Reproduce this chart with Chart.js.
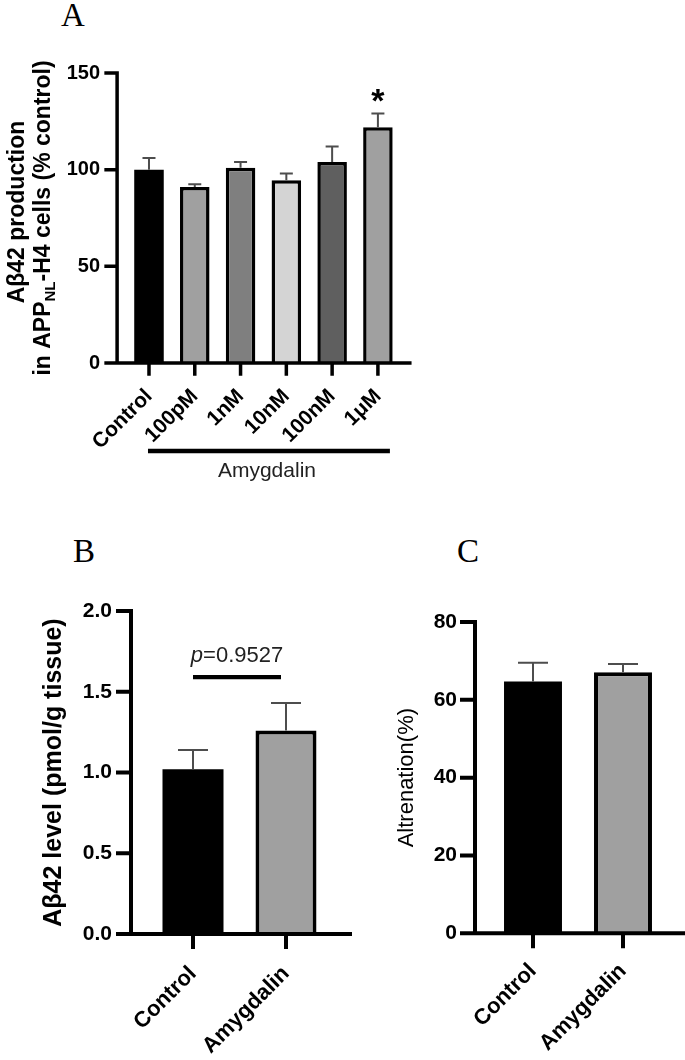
<!DOCTYPE html>
<html>
<head>
<meta charset="utf-8">
<script src="https://cdn.jsdelivr.net/npm/chart.js@4"></script>
<style>
  body { margin: 0; background: #fff; }
  #fig { position: relative; width: 685px; height: 1060px; background: #fff; overflow: hidden; }
  .panel { position: absolute; font-family: 'Liberation Serif', 'Times New Roman', serif; font-size: 33px; line-height: 1; color: #000; }
  canvas { position: absolute; }
</style>
</head>
<body>
<div id="fig">
  <div class="panel" style="left:61px;top:-1px">A</div>
  <div class="panel" style="left:73px;top:535px">B</div>
  <div class="panel" style="left:457px;top:535px">C</div>
  <canvas id="chartA" width="430" height="500" style="left:0;top:0"></canvas>
  <canvas id="chartB" width="360" height="509" style="left:0;top:551px"></canvas>
  <canvas id="chartC" width="335" height="498" style="left:350px;top:561.7px"></canvas>
</div>
<script>
// panel A: Abeta42 production in APP-NL-H4 cells
const doseLabels = ['Control', '100pM', '1nM', '10nM', '100nM', '1\u03bcM'];
const abProduction = [100, 91, 101, 94.5, 104, 122];
const abProductionErr = [6, 1.5, 3, 3.5, 8, 7];
const doseColors = ['#000000', '#a0a0a0', '#7f7f7f', '#d4d4d4', '#5f5f5f', '#a0a0a0'];
const doseSignif = ['', '', '', '', '', '*'];
const ticksA = [0, 50, 100, 150];

// panel B: Abeta42 level in tissue
const groupLabels = ['Control', 'Amygdalin'];
const groupColors = ['#000000', '#a0a0a0'];
const abLevel = [1.02, 1.26];
const abLevelErr = [0.12, 0.17];
const ticksB = [0, 0.5, 1.0, 1.5, 2.0];
const pValue = '0.9527';
const pBarLevel = 1.59;

// panel C: spontaneous alternation
const alternation = [64.7, 67.1];
const alternationErr = [4.8, 2.1];
const ticksC = [0, 20, 40, 60, 80];

const family = "'Liberation Sans', Arial, sans-serif";
Chart.defaults.font.family = family;
Chart.defaults.color = '#000';

// black bars need no outline (avoids a seam between outline and fill)
const outline = (colors, w) => colors.map(c => (c === '#000000' ? 0 : w));

// axis lines, tick marks and upper error bars
const axisLines = {
  id: 'axisLines',
  afterDatasetsDraw(chart, args, o) {
    const ctx = chart.ctx;
    const { left, right, bottom } = chart.chartArea;
    const x = chart.scales.x, y = chart.scales.y;
    const data = chart.data.datasets[0].data;
    const bars = chart.getDatasetMeta(0).data;
    ctx.save();
    ctx.strokeStyle = '#4d4d4d';
    ctx.lineWidth = o.errWidth;
    bars.forEach((bar, i) => {
      const yTop = y.getPixelForValue(data[i] + o.errors[i]);
      ctx.beginPath();
      ctx.moveTo(bar.x, bar.y);
      ctx.lineTo(bar.x, yTop);
      ctx.moveTo(bar.x - o.cap / 2, yTop);
      ctx.lineTo(bar.x + o.cap / 2, yTop);
      ctx.stroke();
    });
    const ax = left - o.gap;
    ctx.strokeStyle = '#000';
    ctx.lineWidth = o.width;
    ctx.lineCap = 'square';
    ctx.beginPath();
    ctx.moveTo(ax, y.getPixelForValue(y.max));
    ctx.lineTo(ax, bottom);
    ctx.lineTo(right + o.extend, bottom);
    y.ticks.forEach(t => {
      const py = y.getPixelForValue(t.value);
      ctx.moveTo(ax - o.tickLen, py);
      ctx.lineTo(ax, py);
    });
    bars.forEach((bar, i) => {
      const px = x.getPixelForTick(i);
      ctx.moveTo(px, bottom);
      ctx.lineTo(px, bottom + o.tickLen);
    });
    ctx.stroke();
    ctx.restore();
  }
};
Chart.register(axisLines);

function baseOptions(pad, yWidth, xHeight, tickSize, xSize, yPad, xPad, yTicks) {
  return {
    responsive: false,
    animation: false,
    devicePixelRatio: 1,
    layout: { padding: pad },
    plugins: { legend: { display: false }, tooltip: { enabled: false } },
    scales: {
      x: {
        grid: { display: false, drawTicks: false },
        border: { display: false },
        ticks: { font: { size: xSize, weight: 'bold' }, color: '#000', minRotation: 45, maxRotation: 45, autoSkip: false, padding: xPad },
        afterFit: s => { s.height = xHeight; }
      },
      y: {
        min: yTicks[0],
        max: yTicks[yTicks.length - 1],
        afterBuildTicks: s => { s.ticks = yTicks.map(v => ({ value: v })); },
        grid: { display: false, drawTicks: false },
        border: { display: false },
        ticks: { font: { size: tickSize, weight: 'bold' }, color: '#000', padding: yPad },
        afterFit: s => { s.width = yWidth; }
      }
    }
  };
}

// panel A extras: y title with subscript, significance star, Amygdalin bracket
const doseExtras = {
  id: 'doseExtras',
  afterDatasetsDraw(chart) {
    const ctx = chart.ctx;
    const x = chart.scales.x, y = chart.scales.y;
    const { top, bottom } = chart.chartArea;
    ctx.save();
    ctx.fillStyle = '#000';
    ctx.textAlign = 'center';
    ctx.font = 'bold 34px ' + family;
    doseSignif.forEach((s, i) => {
      if (!s) return;
      ctx.fillText(s, x.getPixelForValue(i), y.getPixelForValue(abProduction[i] + abProductionErr[i]) - 2);
    });

    const x0 = x.getPixelForValue(0) - 1;
    const x1 = x.getPixelForValue(doseLabels.length - 1) + 12;
    ctx.strokeStyle = '#000';
    ctx.lineWidth = 4.5;
    ctx.beginPath();
    ctx.moveTo(x0, bottom + 88);
    ctx.lineTo(x1, bottom + 88);
    ctx.stroke();
    ctx.fillStyle = '#222';
    ctx.font = '21px ' + family;
    ctx.fillText('Amygdalin', (x0 + x1) / 2 - 2, bottom + 114);

    // rotated y title, second line has a subscript
    const cy = (top + bottom) / 2;
    ctx.fillStyle = '#000';
    ctx.textAlign = 'left';
    const main = 'bold 23px ' + family, sub = 'bold 15px ' + family;
    const lines = [
      { bx: 24, dy: -6, parts: [['A\u03b242 production', main, 0]] },
      { bx: 50, dy: 0, parts: [['in APP', main, 0], ['NL', sub, 5], ['-H4 cells (% control)', main, 0]] }
    ];
    lines.forEach(line => {
      let total = 0;
      line.parts.forEach(p => { ctx.font = p[1]; total += ctx.measureText(p[0]).width; });
      ctx.save();
      ctx.translate(line.bx, cy + line.dy);
      ctx.rotate(-Math.PI / 2);
      let px = -total / 2;
      line.parts.forEach(p => {
        ctx.font = p[1];
        ctx.fillText(p[0], px, p[2]);
        px += ctx.measureText(p[0]).width;
      });
      ctx.restore();
    });
    ctx.restore();
  }
};

// panel B extras: p-value bracket
const pExtras = {
  id: 'pExtras',
  afterDatasetsDraw(chart) {
    const ctx = chart.ctx;
    const x = chart.scales.x, y = chart.scales.y;
    const yy = y.getPixelForValue(pBarLevel);
    const x0 = x.getPixelForValue(0), x1 = x.getPixelForValue(1) - 5;
    ctx.save();
    ctx.strokeStyle = '#000';
    ctx.lineWidth = 4.3;
    ctx.beginPath();
    ctx.moveTo(x0, yy);
    ctx.lineTo(x1, yy);
    ctx.stroke();
    const f1 = 'italic 22px ' + family, f2 = '22px ' + family;
    ctx.font = f1;
    const w1 = ctx.measureText('p').width;
    ctx.font = f2;
    const w2 = ctx.measureText('=' + pValue).width;
    let tx = (x0 + x1) / 2 - (w1 + w2) / 2;
    ctx.fillStyle = '#222';
    ctx.font = f1;
    ctx.fillText('p', tx, yy - 15);
    ctx.font = f2;
    ctx.fillText('=' + pValue, tx + w1, yy - 15);
    ctx.restore();
  }
};

// A
const optA = baseOptions({ top: 73, right: 29.2, left: 0, bottom: 0 }, 126.1, 137, 20, 21, 26, 21, ticksA);
optA.plugins.axisLines = { errors: abProductionErr, errWidth: 2, cap: 13, gap: 9, extend: 9, tickLen: 11, width: 3.5 };
new Chart(document.getElementById('chartA'), {
  type: 'bar',
  data: {
    labels: doseLabels,
    datasets: [{ data: abProduction, backgroundColor: doseColors, borderColor: '#000', borderWidth: outline(doseColors, 3.5), barPercentage: 0.645, categoryPercentage: 1 }]
  },
  options: optA,
  plugins: [doseExtras]
});

// B
const optB = baseOptions({ top: 60, right: 27.5, left: 0, bottom: 0 }, 146.5, 126, 21, 22, 34.5, 27, ticksB);
optB.scales.y.ticks.callback = v => v.toFixed(1);
optB.scales.y.title = { display: true, text: 'A\u03b242 level (pmol/g tissue)', font: { size: 25, weight: 'bold' }, color: '#000', padding: { top: 39, bottom: 0 } };
optB.plugins.axisLines = { errors: abLevelErr, errWidth: 2, cap: 30, gap: 15.5, extend: 17.5, tickLen: 13, width: 4 };
new Chart(document.getElementById('chartB'), {
  type: 'bar',
  data: {
    labels: groupLabels,
    datasets: [{ data: abLevel, backgroundColor: groupColors, borderColor: '#000', borderWidth: outline(groupColors, 4), barPercentage: 0.656, categoryPercentage: 1 }]
  },
  options: optB,
  plugins: [pExtras]
});

// C
const optC = baseOptions({ top: 60, right: 17, left: 0, bottom: 0 }, 138, 126.7, 21, 22, 31, 25, ticksC);
optC.scales.y.title = { display: true, text: 'Altrenation(%)', font: { size: 22 }, color: '#000', padding: { top: 44, bottom: 0 } };
optC.plugins.axisLines = { errors: alternationErr, errWidth: 2, cap: 30, gap: 13, extend: 15, tickLen: 13, width: 4 };
new Chart(document.getElementById('chartC'), {
  type: 'bar',
  data: {
    labels: groupLabels,
    datasets: [{ data: alternation, backgroundColor: groupColors, borderColor: '#000', borderWidth: outline(groupColors, 4), barPercentage: 0.644, categoryPercentage: 1 }]
  },
  options: optC
});
</script>
</body>
</html>
